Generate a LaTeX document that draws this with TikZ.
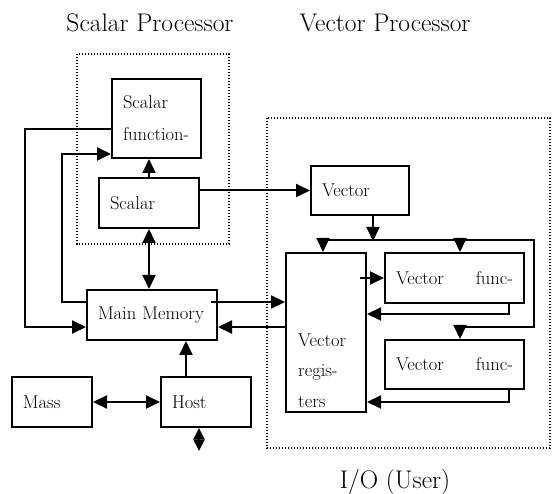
\documentclass[tikz,border=0pt]{standalone}
\usetikzlibrary{arrows.meta,calc}
\newcommand{\boxfont}{\fontsize{18.5}{32}\selectfont}
\newcommand{\ttlfont}{\fontsize{25.5}{28}\selectfont}
\tikzset{
  blk/.style={draw, line width=2pt, inner xsep=11pt, inner ysep=0pt, align=left, font=\boxfont},
  dotbox/.style={line width=1.2pt, dash pattern=on 1.2pt off 1.8pt},
  ttl/.style={font=\ttlfont, inner sep=0pt},
  lnk/.style={line width=2pt}
}
\begin{document}
\begin{tikzpicture}[x=1pt, y=-1pt, >={Triangle[length=14pt,width=13pt]}]
\useasboundingbox (0,0) rectangle (555,494);
% titles
\node[ttl] (tsp) at (150,23) {Scalar Processor};
\node[ttl] (tvp) at (385,23) {Vector Processor};
\node[ttl] (tio) at (395,482) {I/O (User)};
% processor frames
\draw[dotbox] (77,54) rectangle (229,244);
\draw[dotbox] (267,118) rectangle (550,448);
% scalar side
\node[blk, text width=67pt, minimum height=79pt] (sfun) at (156.5,118.5) {Scalar\\function-};
\node[blk, text width=78pt, minimum height=50pt] (scal) at (149,203) {Scalar};
\node[blk, text width=108pt, minimum height=50pt] (mem) at (152,315) {Main Memory};
\node[blk, text width=58pt, minimum height=50pt] (mass) at (52,402) {Mass};
\node[blk, text width=68pt, minimum height=50pt] (host) at (206,402) {Host};
% vector side
\node[blk, text width=76pt, minimum height=49pt] (vec) at (360,190.5) {Vector};
\node[blk, text width=117pt, minimum height=50pt] (fu1) at (454.5,278) {Vector\hfill func-};
\node[blk, text width=117pt, minimum height=49pt] (fu2) at (454.5,364.5) {Vector\hfill func-};
\node[blk, minimum width=80pt, minimum height=159pt] (regs) at (326,332.5) {};
\node[anchor=west, inner sep=0pt, align=left, font=\fontsize{18.5}{30.5}\selectfont] (regtxt) at (298,370.5) {Vector\\regis-\\ters};
% scalar links
\draw[lnk,->] (scal.north) -- (scal.north |- sfun.south);
\draw[lnk,<->] (scal.south) -- (scal.south |- mem.north);
\draw[lnk,->] ($(sfun.west)+(0,10.5)$) -| (25,327) -- ($(mem.west)+(0,12)$);
\draw[lnk,->] ($(mem.west)+(0,-13)$) -| (62,154) -- ($(sfun.west)+(0,35.5)$);
\draw[lnk,->] (scal.east |- vec.west) -- (vec.west);
\draw[lnk,->] ($(host.north)+(-20,0)$) coordinate (h1) -- (h1 |- mem.south);
\draw[lnk,<->] (mass) -- (host);
\draw[lnk,<->, >={Triangle[length=11.5pt,width=11pt]}] ($(host.south)+(-7,0)$) -- ++(0,23);
% memory <-> registers
\draw[lnk,->] ($(mem.east)+(-7,-13)$) -- ($(regs.west)+(0,-30.5)$);
\draw[lnk,->] ($(regs.west)+(0,-5.5)$) -- ($(mem.east)+(0,12)$);
% vector bus
\coordinate (b1) at (323,240);
\coordinate (b2) at (460,240);
\coordinate (b3) at (534,240);
\coordinate (b4) at (460,327);
\draw[lnk,->] ($(vec.south)+(13,0)$) -- ++(0,25);
\draw[lnk] (b1) -- (b3) |- (b4);
\draw[lnk,->] (b1) -- (b1 |- regs.north);
\draw[lnk,->] (b2) -- (b2 |- fu1.north);
\draw[lnk,->] (b4) -- (b4 |- fu2.north);
\draw[lnk,->] ($(regs.east |- fu1.west)+(-7,0)$) -- (fu1.west);
\draw[lnk,->] ($(fu1.south)+(54.5,0)$) |- ($(regs.east)+(0,-18.5)$);
\draw[lnk,->] ($(fu2.south)+(54.5,0)$) |- ($(regs.east)+(0,69.5)$);
\end{tikzpicture}
\end{document}
